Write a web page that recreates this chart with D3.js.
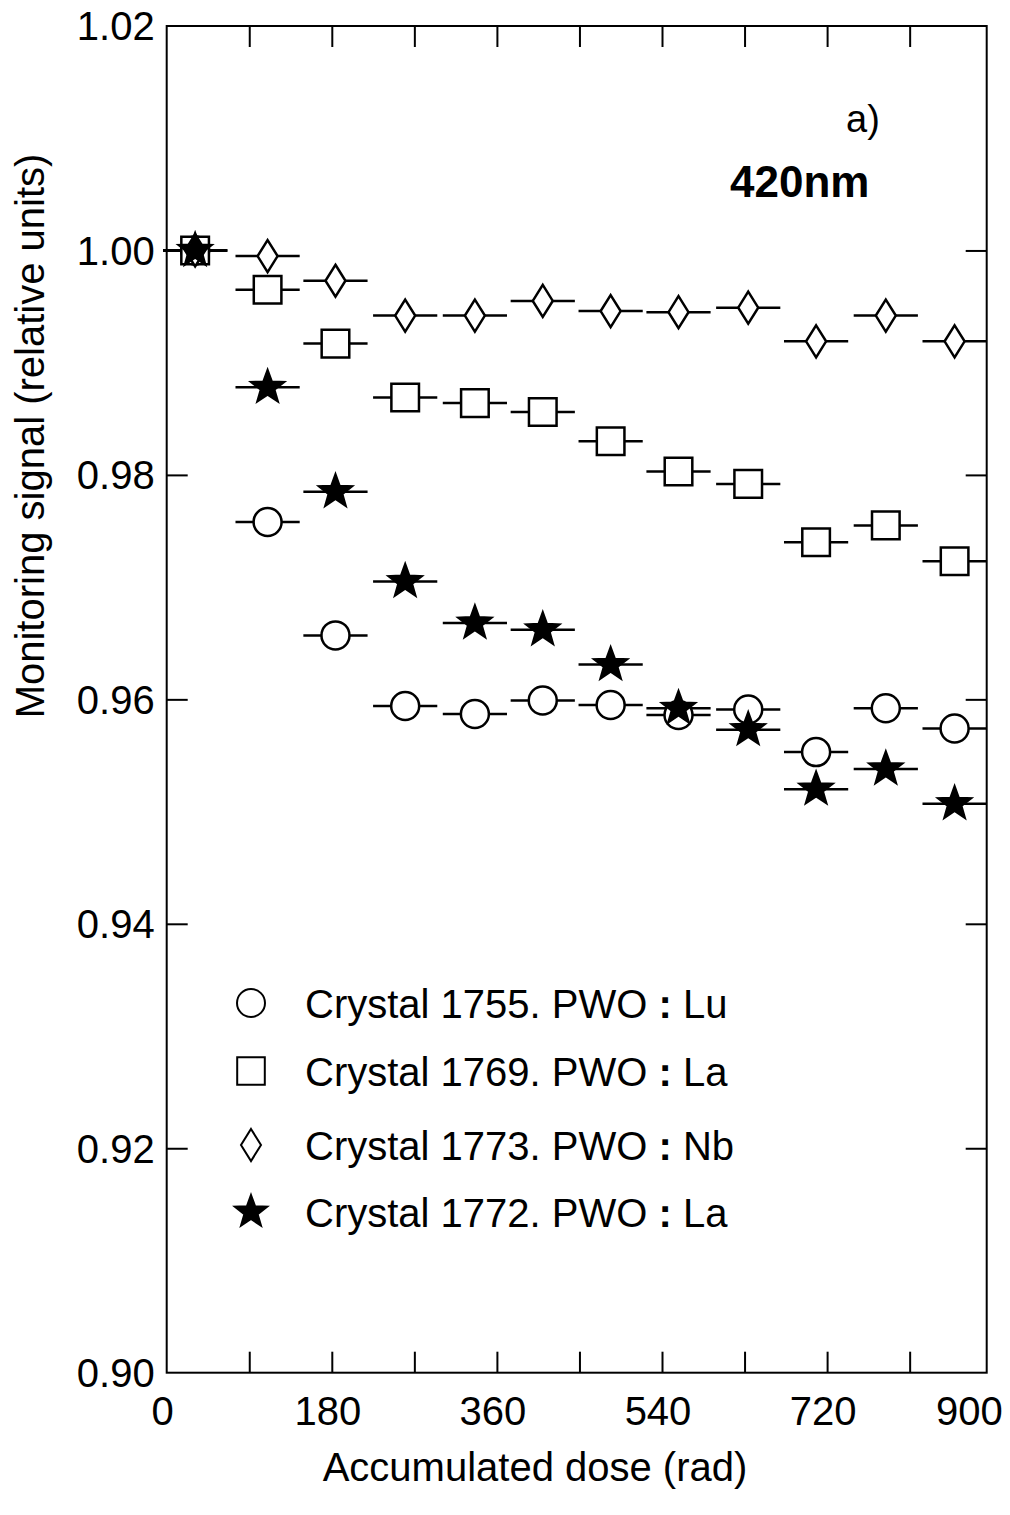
<!DOCTYPE html>
<html>
<head>
<meta charset="utf-8">
<script src="https://cdn.jsdelivr.net/npm/d3@7"></script>
<style>
  html, body { margin: 0; padding: 0; background: #fff; }
  svg { display: block; font-family: "Liberation Sans", Arial, sans-serif; }
</style>
</head>
<body>
<svg id="chart" width="1010" height="1515"></svg>
<script>
// Accumulated dose (rad) at each measurement step
const dose = [31, 110, 184, 260, 336, 410, 484, 558, 634, 708, 784, 859];
const doseHalfWidth = 35; // half of the dose step, drawn as horizontal bars

// Relative monitoring signal at 420 nm for each crystal
const crystal1755Lu = [1.000, 0.9758, 0.9657, 0.9594, 0.9587, 0.9599, 0.9595, 0.9586, 0.9591, 0.9553, 0.9592, 0.9574];
const crystal1769La = [1.000, 0.9965, 0.9917, 0.9869, 0.9864, 0.9856, 0.9830, 0.9803, 0.9792, 0.9740, 0.9755, 0.9723];
const crystal1773Nb = [1.000, 0.9995, 0.9973, 0.9942, 0.9942, 0.9955, 0.9946, 0.9945, 0.9949, 0.9919, 0.9942, 0.9919];
const crystal1772La = [1.000, 0.9878, 0.9785, 0.9705, 0.9668, 0.9662, 0.9631, 0.9592, 0.9573, 0.9520, 0.9538, 0.9507];

const seriesNames = ["Crystal 1755. PWO ", "Crystal 1769. PWO ", "Crystal 1773. PWO ", "Crystal 1772. PWO "];
const dopants = ["Lu", "La", "Nb", "La"];
const markers = ["circle", "square", "diamond", "star"];

const xTickLabels = [0, 180, 360, 540, 720, 900];
const yTickValues = [0.90, 0.92, 0.94, 0.96, 0.98, 1.00, 1.02];

const series = [crystal1755Lu, crystal1769La, crystal1773Nb, crystal1772La].map((vals, i) => ({
  name: seriesNames[i], dopant: dopants[i], marker: markers[i],
  points: vals.map((v, j) => ({ x: dose[j], y: v }))
}));

const svg = d3.select("#chart");
const plotL = 166.7, plotR = 986.7, plotT = 26, plotB = 1372.7;

const x = d3.scaleLinear().domain([0, 894]).range([plotL, plotR]);
const y = d3.scaleLinear().domain([0.90, 1.02]).range([plotB, plotT]);

const fontSize = 40;
const tickLen = 21;

// Marker path generators, centred on (0,0)
function markerPath(type) {
  const p = d3.path();
  if (type === "circle") {
    p.arc(0, 0, 14, 0, 2 * Math.PI);
  } else if (type === "square") {
    p.rect(-13.8, -13.8, 27.6, 27.6);
  } else if (type === "diamond") {
    p.moveTo(0, -16); p.lineTo(10, 0); p.lineTo(0, 16); p.lineTo(-10, 0); p.closePath();
  } else {
    const R = 17, r = 7;
    for (let k = 0; k < 10; k++) {
      const a = -Math.PI / 2 + k * Math.PI / 5;
      const rr = k % 2 === 0 ? R : r;
      const px = rr * Math.cos(a), py = rr * Math.sin(a);
      if (k === 0) p.moveTo(px, py); else p.lineTo(px, py);
    }
    p.closePath();
  }
  return p.toString();
}
const fillOf = t => t === "star" ? "#000" : "#fff";

// Axes: ticks point inward on all four sides
const xTicks = d3.range(90, 894, 90);
const yTicks = yTickValues.slice(1, -1);

const axB = svg.append("g").attr("transform", `translate(0,${plotB})`)
  .call(d3.axisBottom(x).tickValues(xTicks).tickSize(-tickLen).tickFormat(""));
const axT = svg.append("g").attr("transform", `translate(0,${plotT})`)
  .call(d3.axisTop(x).tickValues(xTicks).tickSize(-tickLen).tickFormat(""));
const axL = svg.append("g").attr("transform", `translate(${plotL},0)`)
  .call(d3.axisLeft(y).tickValues(yTicks).tickSize(-tickLen).tickFormat(""));
const axR = svg.append("g").attr("transform", `translate(${plotR},0)`)
  .call(d3.axisRight(y).tickValues(yTicks).tickSize(-tickLen).tickFormat(""));
[axB, axT, axL, axR].forEach(g => {
  g.select(".domain").remove();
  g.selectAll("line").attr("stroke", "#000").attr("stroke-width", 2);
});

// Frame
svg.append("rect")
  .attr("x", plotL).attr("y", plotT)
  .attr("width", plotR - plotL).attr("height", plotB - plotT)
  .attr("fill", "none").attr("stroke", "#000").attr("stroke-width", 2);

// Tick labels
svg.append("g").selectAll("text").data(xTickLabels).join("text")
  .attr("x", d => d === 900 ? plotR + 16 : x(d) - 4)
  .attr("y", 1425)
  .attr("text-anchor", d => d === 900 ? "end" : "middle")
  .attr("font-size", fontSize)
  .text(d => d);

svg.append("g").selectAll("text").data(yTickValues).join("text")
  .attr("x", plotL - 12)
  .attr("y", d => y(d))
  .attr("dy", "0.36em")
  .attr("text-anchor", "end")
  .attr("font-size", fontSize)
  .text(d => d.toFixed(2));

// Axis titles
svg.append("text")
  .attr("x", 535).attr("y", 1481)
  .attr("text-anchor", "middle")
  .attr("font-size", fontSize)
  .text("Accumulated dose (rad)");

svg.append("text")
  .attr("transform", `translate(44,436) rotate(-90)`)
  .attr("text-anchor", "middle")
  .attr("font-size", fontSize)
  .text("Monitoring signal (relative units)");

// Panel annotations
svg.append("text").attr("x", 846).attr("y", 132)
  .attr("font-size", 38).text("a)");
svg.append("text").attr("x", 730).attr("y", 197)
  .attr("font-size", 44).attr("font-weight", "bold").text("420nm");

// Data: horizontal dose bars first, then markers on top
const dataG = svg.append("g");
series.forEach(s => {
  dataG.append("g").selectAll("line").data(s.points).join("line")
    .attr("x1", d => x(d.x - doseHalfWidth))
    .attr("x2", d => x(d.x + doseHalfWidth))
    .attr("y1", d => y(d.y)).attr("y2", d => y(d.y))
    .attr("stroke", "#000").attr("stroke-width", 2.5);
});
series.forEach(s => {
  dataG.append("g").selectAll("path").data(s.points).join("path")
    .attr("transform", d => `translate(${x(d.x)},${y(d.y)})`)
    .attr("d", markerPath(s.marker))
    .attr("fill", fillOf(s.marker))
    .attr("stroke", "#000").attr("stroke-width", 2.5);
});

// Legend
const legendY = [1003, 1071, 1145, 1212];
const legend = svg.append("g");
series.forEach((s, i) => {
  legend.append("path")
    .attr("transform", `translate(251,${legendY[i]})`)
    .attr("d", markerPath(s.marker))
    .attr("fill", fillOf(s.marker))
    .attr("stroke", "#000").attr("stroke-width", 2);
  const t = legend.append("text")
    .attr("x", 305).attr("y", legendY[i] + 15)
    .attr("font-size", fontSize);
  t.append("tspan").text(s.name);
  t.append("tspan").attr("font-weight", "bold").text(":");
  t.append("tspan").text(" " + s.dopant);
});
</script>
</body>
</html>
